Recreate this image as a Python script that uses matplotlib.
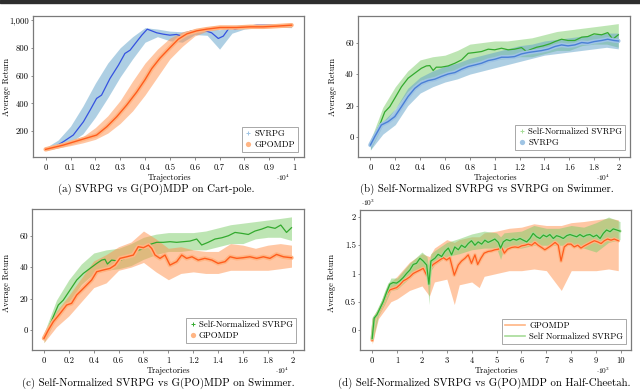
import matplotlib

matplotlib.use("Agg")
import matplotlib.pyplot as plt
from matplotlib.lines import Line2D
from matplotlib.patches import Rectangle

plt.rcParams["font.family"] = ["cmr10", "DejaVu Serif"]
plt.rcParams["mathtext.fontset"] = "cm"
plt.rcParams["axes.unicode_minus"] = False
plt.rcParams["axes.formatter.use_mathtext"] = True

# ---- (a) Cart-pole: SVRPG vs GPOMDP (x in 1e4 trajectories)
a_x_svrpg = [0, 0.035, 0.071, 0.111, 0.152, 0.179, 0.205, 0.225, 0.259, 0.293, 0.319, 0.34,
             0.366, 0.387, 0.409, 0.427, 0.447, 0.474, 0.5, 0.527, 0.548, 0.568, 0.588,
             0.608, 0.635, 0.668, 0.695, 0.715, 0.742, 0.762, 0.796, 0.85, 0.903, 0.957, 0.99]
a_svrpg = [68, 85, 123, 171, 267, 351, 435, 459, 579, 675, 759, 783, 843, 891, 934, 922, 908,
           898, 891, 896, 884, 908, 922, 915, 927, 908, 867, 884, 951, 932, 951, 963, 963, 958, 963]
a_x_gpomdp = [0, 0.071, 0.138, 0.205, 0.246, 0.286, 0.326, 0.366, 0.4, 0.427, 0.46, 0.5,
              0.534, 0.568, 0.608, 0.648, 0.702, 0.769, 0.823, 0.876, 0.93, 0.99]
a_gpomdp = [68, 99, 135, 171, 231, 303, 387, 480, 570, 650, 725, 800, 862, 900, 922, 934,
            946, 946, 951, 951, 956, 963]
a_band_x = [0, 0.05, 0.1, 0.15, 0.2, 0.25, 0.3, 0.35, 0.4, 0.45, 0.5, 0.55, 0.6, 0.65, 0.7,
            0.75, 0.8, 0.9, 0.99]
a_svrpg_lo = [60, 80, 118, 180, 300, 440, 590, 720, 840, 880, 850, 840, 895, 890, 790, 905,
              935, 950, 945]
a_svrpg_hi = [80, 135, 235, 380, 545, 690, 800, 880, 945, 935, 920, 915, 935, 940, 930, 960,
              965, 970, 972]
a_gpomdp_lo = [62, 78, 95, 115, 140, 185, 255, 345, 460, 590, 720, 810, 885, 920, 935, 938,
               942, 945, 950]
a_gpomdp_hi = [75, 100, 128, 160, 225, 310, 420, 560, 690, 790, 870, 915, 935, 945, 952, 955,
               958, 960, 968]

# ---- (b) Swimmer: Self-Normalized SVRPG vs SVRPG
b_x_sn = [0, 0.035, 0.075, 0.115, 0.156, 0.196, 0.25, 0.303, 0.357, 0.41, 0.45, 0.478, 0.505,
          0.53, 0.57, 0.626, 0.68, 0.733, 0.787, 0.84, 0.894, 0.948, 1.0, 1.055, 1.108, 1.16,
          1.216, 1.256, 1.283, 1.337, 1.39, 1.444, 1.485, 1.538, 1.59, 1.645, 1.7, 1.75, 1.8,
          1.86, 1.91, 1.95, 1.995]
b_sn = [-4.9, 1.5, 7.8, 16, 19.4, 24.7, 32, 37.4, 40.6, 43.7, 45.2, 45.4, 42.3, 44.4, 44.4,
        45.2, 46.9, 49, 53.2, 53.7, 54.3, 55.8, 55.4, 56.4, 55.4, 55.8, 56.8, 54.3, 55.4, 57,
        57.9, 59.2, 60.6, 62.1, 61.3, 61.3, 63.4, 63.8, 65.5, 64.9, 66.3, 62.1, 64.9]
b_x_svrpg = [0, 0.035, 0.088, 0.142, 0.196, 0.25, 0.303, 0.357, 0.41, 0.464, 0.518, 0.57,
             0.626, 0.68, 0.733, 0.787, 0.84, 0.894, 0.948, 1.0, 1.055, 1.108, 1.16, 1.216,
             1.27, 1.323, 1.377, 1.43, 1.485, 1.538, 1.59, 1.645, 1.7, 1.75, 1.8, 1.86, 1.91,
             1.96, 1.995]
b_svrpg = [-4.9, 0.4, 7.8, 9.9, 13.1, 19.4, 25.8, 31, 34.2, 35.9, 36.8, 38.5, 40.1, 41, 43.1,
           44.8, 45.8, 46.9, 48.6, 49.4, 50.7, 50.7, 51.1, 52.8, 53.7, 54.3, 54.9, 55.8, 57.5,
           58.5, 57.9, 58.5, 60, 59.6, 60.6, 61.3, 62.1, 61.3, 61]
b_band_x = [0, 0.1, 0.2, 0.3, 0.4, 0.5, 0.6, 0.7, 0.8, 0.9, 1.0, 1.1, 1.2, 1.3, 1.4, 1.5, 1.6,
            1.7, 1.8, 1.9, 1.995]
b_sn_lo = [-8, 8, 18, 29, 36, 38, 40, 42, 45, 47, 49, 50, 51, 51, 53, 55, 55, 58, 59, 59, 57]
b_sn_hi = [-2, 19, 32, 42, 49, 51, 52, 55, 59, 60, 61, 61, 62, 63, 65, 67, 68, 69, 70, 71, 72]
b_svrpg_lo = [-8, 2, 8, 20, 28, 32, 35, 37, 40, 42, 44, 46, 48, 50, 52, 53, 54, 55, 56, 57, 56]
b_svrpg_hi = [-2, 10, 18, 31, 38, 42, 45, 47, 50, 52, 54, 56, 58, 59, 61, 62, 63, 64, 65, 66, 66]

# ---- (c) Swimmer: Self-Normalized SVRPG vs GPOMDP
c_x_sn = [0, 0.035, 0.075, 0.115, 0.155, 0.209, 0.263, 0.316, 0.37, 0.424, 0.464, 0.49, 0.51,
          0.544, 0.6, 0.65, 0.705, 0.76, 0.812, 0.853, 0.906, 0.96, 1.013, 1.067, 1.12, 1.174,
          1.228, 1.268, 1.32, 1.375, 1.43, 1.483, 1.536, 1.59, 1.643, 1.697, 1.75, 1.8, 1.858,
          1.904, 1.95, 1.99]
c_sn = [-5.3, 1.1, 8.5, 15.9, 19, 25.4, 31.8, 36, 39.2, 42.4, 44.5, 45, 42, 44.5, 43.9, 45.6,
        47.7, 50.9, 51.9, 54.5, 55.8, 55.8, 56.2, 55.8, 56.2, 56.6, 57.9, 54.1, 55.8, 57.9,
        58.7, 60, 62.1, 61.5, 60.8, 63, 64.2, 65.7, 64.7, 66.8, 62.1, 65.1]
c_x_gpomdp = [0, 0.035, 0.075, 0.13, 0.182, 0.222, 0.263, 0.303, 0.343, 0.383, 0.424, 0.477,
              0.53, 0.571, 0.611, 0.665, 0.718, 0.758, 0.8, 0.84, 0.866, 0.893, 0.933, 0.973,
              1.013, 1.067, 1.107, 1.147, 1.19, 1.24, 1.293, 1.35, 1.4, 1.456, 1.496, 1.55, 1.6,
              1.656, 1.71, 1.764, 1.817, 1.87, 1.925, 1.99]
c_gpomdp = [-5.3, 0, 5.3, 10.6, 15.9, 17, 22.3, 25.4, 28.6, 31.8, 37.1, 38.2, 39.2, 41.3, 45.6,
            46.6, 47.7, 53, 52.4, 54, 51.9, 47.7, 45.6, 47.7, 41.3, 43.5, 47.7, 45.6, 46.6, 44.5,
            45.6, 44.5, 42.4, 43.5, 46.6, 45.6, 46, 46.6, 45.6, 46.6, 45.6, 48.1, 46.6, 46]
c_band_x = [0, 0.1, 0.2, 0.3, 0.4, 0.5, 0.6, 0.7, 0.8, 0.9, 1.0, 1.1, 1.2, 1.3, 1.4, 1.5, 1.6,
            1.7, 1.8, 1.9, 1.99]
c_sn_lo = [-8, 8, 18, 29, 36, 38, 39, 41, 45, 48, 50, 50, 51, 51, 53, 55, 55, 58, 59, 59, 57]
c_sn_hi = [-2, 19, 32, 42, 49, 51, 52, 55, 59, 61, 62, 62, 62, 63, 65, 67, 68, 69, 70, 71, 72]
c_gpomdp_lo = [-8, 2, 9, 18, 27, 30, 38, 40, 43, 37, 32, 36, 37, 36, 36, 38, 38, 38, 38, 39, 40]
c_gpomdp_hi = [-2, 12, 22, 33, 44, 48, 53, 56, 63, 58, 52, 53, 51, 50, 50, 55, 54, 52, 54, 55, 54]

# ---- (d) Half-Cheetah: GPOMDP vs Self Normalized SVRPG (x in 1e3, y in 1e3)
d_x_sn = [0, 0.08, 0.19, 0.31, 0.44, 0.58, 0.71, 0.84, 0.98, 1.11, 1.25, 1.38, 1.51, 1.65,
          1.78, 1.92, 2.05, 2.19, 2.28, 2.36, 2.52, 2.65, 2.79, 2.92, 3.06, 3.19, 3.32, 3.46,
          3.59, 3.73, 3.86, 3.99, 4.13, 4.26, 4.4, 4.53, 4.66, 4.8, 4.93, 5.07, 5.16, 5.27, 5.4,
          5.54, 5.67, 5.8, 5.94, 6.07, 6.21, 6.34, 6.47, 6.61, 6.74, 6.88, 7.01, 7.14, 7.28,
          7.41, 7.55, 7.68, 7.82, 7.95, 8.08, 8.22, 8.35, 8.49, 8.62, 8.75, 8.89, 9.02, 9.16,
          9.29, 9.42, 9.56, 9.69, 9.83, 9.96]
d_sn = [-0.15, 0.21, 0.27, 0.38, 0.5, 0.67, 0.81, 0.84, 0.83, 0.87, 0.93, 1.0, 1.06, 1.16,
        1.18, 1.27, 1.22, 1.15, 0.81, 1.22, 1.27, 1.34, 1.3, 1.39, 1.45, 1.33, 1.47, 1.42, 1.5,
        1.46, 1.53, 1.58, 1.5, 1.56, 1.52, 1.59, 1.55, 1.58, 1.61, 1.55, 1.45, 1.56, 1.6, 1.58,
        1.61, 1.59, 1.62, 1.59, 1.56, 1.62, 1.71, 1.65, 1.62, 1.68, 1.65, 1.69, 1.62, 1.67,
        1.65, 1.62, 1.67, 1.69, 1.67, 1.65, 1.69, 1.65, 1.68, 1.69, 1.65, 1.68, 1.62, 1.71,
        1.77, 1.74, 1.79, 1.77, 1.75]
d_x_gpomdp = [0, 0.08, 0.19, 0.31, 0.44, 0.58, 0.71, 0.84, 0.98, 1.11, 1.25, 1.38, 1.51, 1.65,
              1.78, 1.92, 2.05, 2.19, 2.32, 2.45, 2.59, 2.72, 2.86, 2.99, 3.12, 3.3, 3.46, 3.59,
              3.73, 3.86, 3.99, 4.13, 4.24, 4.37, 4.5, 4.66, 4.8, 4.93, 5.07, 5.2, 5.31, 5.44,
              5.6, 5.74, 5.87, 6.01, 6.14, 6.27, 6.41, 6.54, 6.67, 6.81, 6.94, 7.08, 7.21, 7.35,
              7.48, 7.59, 7.72, 7.86, 7.99, 8.12, 8.26, 8.39, 8.53, 8.66, 8.79, 8.93, 9.06, 9.2,
              9.33, 9.46, 9.6, 9.73, 9.89]
d_gpomdp = [-0.18, 0.18, 0.27, 0.35, 0.47, 0.63, 0.71, 0.73, 0.75, 0.8, 0.87, 0.9, 0.94, 1.0,
            1.03, 1.06, 1.09, 0.97, 1.09, 1.16, 1.2, 1.24, 1.28, 1.24, 1.28, 0.97, 1.15, 1.22,
            1.27, 1.33, 1.18, 1.33, 1.16, 1.27, 1.36, 1.39, 1.4, 1.42, 1.43, 1.47, 1.36, 1.43,
            1.46, 1.47, 1.46, 1.49, 1.5, 1.52, 1.5, 1.55, 1.5, 1.46, 1.42, 1.46, 1.5, 1.55, 1.5,
            1.22, 1.47, 1.52, 1.52, 1.47, 1.5, 1.45, 1.49, 1.52, 1.55, 1.58, 1.56, 1.53, 1.58,
            1.61, 1.59, 1.61, 1.58]
d_sn_band_x = [0, 0.25, 0.5, 0.75, 1.0, 1.5, 2.0, 2.2, 2.28, 2.36, 2.5, 3.0, 3.5, 4.0, 4.5,
               5.0, 5.16, 5.3, 6.0, 6.5, 7.0, 7.5, 8.0, 8.5, 9.0, 9.5, 9.96]
d_sn_lo = [-0.22, 0.25, 0.45, 0.7, 0.72, 0.92, 1.1, 1.02, 0.45, 1.05, 1.15, 1.3, 1.35, 1.42,
           1.45, 1.45, 1.25, 1.45, 1.45, 1.5, 1.5, 1.5, 1.5, 1.45, 1.38, 1.55, 1.6]
d_sn_hi = [-0.1, 0.4, 0.65, 0.92, 0.92, 1.18, 1.38, 1.3, 1.1, 1.35, 1.4, 1.55, 1.62, 1.7, 1.75,
           1.72, 1.65, 1.72, 1.75, 1.85, 1.8, 1.8, 1.85, 1.82, 1.9, 2.0, 1.92]
d_gp_band_x = [0, 0.25, 0.5, 0.75, 1.0, 1.5, 2.0, 2.3, 2.5, 3.0, 3.3, 3.5, 4.0, 4.3, 4.5, 5.0,
               5.5, 6.0, 6.5, 7.0, 7.6, 8.0, 8.5, 9.0, 9.5, 9.89]
d_gp_lo = [-0.25, 0.2, 0.35, 0.5, 0.55, 0.7, 0.78, 0.6, 0.85, 0.9, 0.45, 0.8, 0.85, 0.75, 0.95,
           1.0, 1.05, 1.05, 1.08, 1.05, 0.7, 1.05, 1.05, 1.05, 1.08, 1.05]
d_gp_hi = [-0.1, 0.4, 0.6, 0.85, 0.95, 1.2, 1.35, 1.3, 1.45, 1.6, 1.55, 1.6, 1.65, 1.65, 1.72,
           1.75, 1.8, 1.82, 1.88, 1.85, 1.85, 1.9, 1.92, 1.95, 1.98, 1.95]

BLUE = "#3552e0"
BLUE2 = "#4a7fd6"
BLUE_BAND = "#5fa1c9"
BLUE_HALO = "#9fc4e4"
ORANGE = "#ff5c1c"
ORANGE_BAND = "#ff914b"
ORANGE_HALO = "#ffb584"
GREEN = "#33aa2e"
GREEN_BAND = "#7dcd69"
GREEN_HALO = "#a7dc98"
FRAME = "#7a7a7a"

W, H = 640, 391
fig = plt.figure(figsize=(W / 100, H / 100), dpi=100)
fig.patches.append(Rectangle((0, 1 - 2.5 / H), 1, 2.5 / H, transform=fig.transFigure,
                             color="#2e2e2e", zorder=10))


def make_axes(l, t, r, b):
    return fig.add_axes([l / W, 1 - b / H, (r - l) / W, (b - t) / H])


def ftext(x, y, s, **kw):
    fig.text(x / W, 1 - y / H, s, ha=kw.pop("ha", "center"), va=kw.pop("va", "center"), **kw)


def style(ax, xlim, ylim, xticks, xlabels, yticks, ylabels):
    ax.set_xlim(xlim)
    ax.set_ylim(ylim)
    ax.set_xticks(xticks)
    ax.set_xticklabels(xlabels)
    ax.set_yticks(yticks)
    ax.set_yticklabels(ylabels)
    for s in ax.spines.values():
        s.set_color(FRAME)
        s.set_linewidth(0.9)
    ax.tick_params(axis="x", direction="out", length=2.5, width=0.6, color=FRAME,
                   labelsize=6.2, pad=2.5)
    ax.tick_params(axis="y", direction="out", length=1.8, width=0.6, color=FRAME,
                   labelsize=6.2, pad=1.2)


def band(ax, x, lo, hi, color):
    ax.fill_between(x, lo, hi, color=color, alpha=0.5, lw=0)


def halo_line(ax, x, y, core, halo, lw=1.0, hw=3.2):
    ax.plot(x, y, color=halo, lw=hw, solid_capstyle="round", solid_joinstyle="round")
    ax.plot(x, y, color=core, lw=lw)


def legend(ax, handles, labels, anchor, hl=0.8, htp=0.3):
    lg = ax.legend(handles, labels, loc="lower right", bbox_to_anchor=anchor, borderaxespad=0,
                   fontsize=6.3, frameon=True, fancybox=False, framealpha=1, handlelength=hl,
                   handletextpad=htp, borderpad=0.35, labelspacing=0.25)
    lg.get_frame().set_edgecolor("#9a9a9a")
    lg.get_frame().set_linewidth(0.6)


plus_h = lambda c: Line2D([], [], ls="none", marker="+", color=c, ms=3.5, mew=0.7)
dot_h = lambda c: Line2D([], [], ls="none", marker="o", color=c, ms=3.8, mew=0)

tick_02 = [0, 0.2, 0.4, 0.6, 0.8, 1.0, 1.2, 1.4, 1.6, 1.8, 2.0]
lab_02 = ["0", "0.2", "0.4", "0.6", "0.8", "1", "1.2", "1.4", "1.6", "1.8", "2"]
CAP = 7.8

# (a)
ax = make_axes(33, 16, 304, 157)
band(ax, a_band_x, a_svrpg_lo, a_svrpg_hi, BLUE_BAND)
band(ax, a_band_x, a_gpomdp_lo, a_gpomdp_hi, ORANGE_BAND)
ax.plot(a_x_svrpg, a_svrpg, color=BLUE, lw=0.9)
halo_line(ax, a_x_gpomdp, a_gpomdp, ORANGE, ORANGE_HALO)
style(ax, (-0.051, 1.04), (13, 1029), [i / 10 for i in range(11)],
      ["0"] + ["0.%d" % i for i in range(1, 10)] + ["1"],
      [200, 400, 600, 800, 1000], ["200", "400", "600", "800", "1,000"])
legend(ax, [plus_h(BLUE_HALO), dot_h(ORANGE_HALO)], ["SVRPG", "GPOMDP"], (0.978, 0.035))
ftext(169, 177.5, "Trajectories", fontsize=6)
ftext(283, 177.5, r"$\cdot 10^4$", fontsize=5.3)
ftext(7, 87, "Average Return", fontsize=6, rotation=90)
ftext(156, 189.5, "(a) SVRPG vs G(PO)MDP on Cart-pole.", fontsize=CAP)

# (b)
ax = make_axes(358, 15.7, 630, 156.7)
band(ax, b_band_x, b_sn_lo, b_sn_hi, GREEN_BAND)
band(ax, b_band_x, b_svrpg_lo, b_svrpg_hi, BLUE_BAND)
ax.plot(b_x_sn, b_sn, color=GREEN, lw=0.9)
halo_line(ax, b_x_svrpg, b_svrpg, BLUE2, BLUE_HALO)
style(ax, (-0.1, 2.089), (-12.3, 77), tick_02, lab_02, [0, 20, 40, 60],
      ["0", "20", "40", "60"])
legend(ax, [plus_h(GREEN_HALO), dot_h(BLUE_HALO)], ["Self-Normalized SVRPG", "SVRPG"],
       (0.982, 0.047))
ftext(495, 177.5, "Trajectories", fontsize=6)
ftext(603, 177.5, r"$\cdot 10^4$", fontsize=5.3)
ftext(333, 87, "Average Return", fontsize=6, rotation=90)
ftext(487, 189.5, "(b) Self-Normalized SVRPG vs SVRPG on Swimmer.", fontsize=CAP)

# (c)
ax = make_axes(32.3, 209, 304.3, 350)
band(ax, c_band_x, c_sn_lo, c_sn_hi, GREEN_BAND)
band(ax, c_band_x, c_gpomdp_lo, c_gpomdp_hi, ORANGE_BAND)
ax.plot(c_x_sn, c_sn, color=GREEN, lw=0.9)
halo_line(ax, c_x_gpomdp, c_gpomdp, ORANGE, ORANGE_HALO)
style(ax, (-0.094, 2.093), (-12.7, 77), tick_02, lab_02, [0, 20, 40, 60],
      ["0", "20", "40", "60"])
legend(ax, [plus_h(GREEN), dot_h(ORANGE_HALO)], ["Self-Normalized SVRPG", "GPOMDP"],
       (0.969, 0.05))
ftext(168, 370.5, "Trajectories", fontsize=6)
ftext(282, 370.5, r"$\cdot 10^4$", fontsize=5.3)
ftext(7, 283, "Average Return", fontsize=6, rotation=90)
ftext(158, 383, "(c) Self-Normalized SVRPG vs G(PO)MDP on Swimmer.", fontsize=CAP)

# (d)
ax = make_axes(360, 210, 630.7, 350)
band(ax, d_gp_band_x, d_gp_lo, d_gp_hi, ORANGE_BAND)
band(ax, d_sn_band_x, d_sn_lo, d_sn_hi, GREEN_BAND)
halo_line(ax, d_x_gpomdp, d_gpomdp, ORANGE, ORANGE_HALO, lw=0.9, hw=2.6)
halo_line(ax, d_x_sn, d_sn, GREEN, GREEN_HALO, lw=0.9, hw=2.2)
style(ax, (-0.49, 10.39), (-0.354, 2.124), list(range(11)), [str(i) for i in range(11)],
      [0, 0.5, 1, 1.5, 2], ["0", "0.5", "1", "1.5", "2"])
legend(ax, [Line2D([], [], color=ORANGE_HALO, lw=1.2), Line2D([], [], color=GREEN_HALO, lw=1.2)],
       ["GPOMDP", "Self Normalized SVRPG"], (0.983, 0.043), hl=2.2, htp=0.5)
ftext(496, 370.5, "Trajectories", fontsize=6)
ftext(603, 370.5, r"$\cdot 10^3$", fontsize=5.3)
ftext(368, 203, r"$\cdot 10^3$", fontsize=5.3)
ftext(332, 283, "Average Return", fontsize=6, rotation=90)
ftext(484, 383, "(d) Self-Normalized SVRPG vs G(PO)MDP on Half-Cheetah.", fontsize=CAP)

fig.savefig("out.png", dpi=100)
